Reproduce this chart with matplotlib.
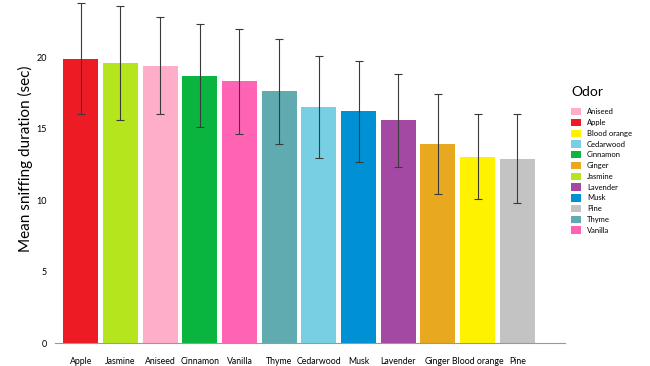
import matplotlib.pyplot as plt
from matplotlib.patches import Patch

# data
odors = ["Apple", "Jasmine", "Aniseed", "Cinnamon", "Vanilla", "Thyme",
         "Cedarwood", "Musk", "Lavender", "Ginger", "Blood orange", "Pine"]
means = [19.9, 19.6, 19.4, 18.7, 18.3, 17.6, 16.5, 16.2, 15.6, 13.9, 13.05, 12.9]
errs = [3.9, 4.0, 3.4, 3.6, 3.7, 3.7, 3.55, 3.55, 3.25, 3.5, 3.0, 3.1]
colors = {
    "Aniseed": "#FFAEC9",
    "Apple": "#ED1C24",
    "Blood orange": "#FFF200",
    "Cedarwood": "#78CFE3",
    "Cinnamon": "#0AB53F",
    "Ginger": "#E8A820",
    "Jasmine": "#B5E61D",
    "Lavender": "#A349A4",
    "Musk": "#0090D4",
    "Pine": "#C3C3C3",
    "Thyme": "#5FABAF",
    "Vanilla": "#FF64B4",
}

plt.rcParams["font.family"] = ["Lato", "DejaVu Sans"]

fig = plt.figure(figsize=(6.5, 3.66), dpi=100)
ax = fig.add_axes([0.0846, 0.0628, 0.7844, 0.9372])

x = range(len(odors))
ax.bar(x, means, width=0.88, color=[colors[o] for o in odors], zorder=2)
ax.errorbar(x, means, yerr=errs, fmt="none", ecolor="#3a3a3a",
            elinewidth=0.8, capsize=3.2, capthick=0.8, zorder=3)

ax.set_xlim(-0.65, 12.2)
ax.set_ylim(0, 24)
ax.set_yticks([0, 5, 10, 15, 20])
ax.set_xticks(list(x))
ax.set_xticklabels(odors, fontsize=6.3)
ax.tick_params(axis="x", length=0, pad=10)
ax.tick_params(axis="y", length=0, pad=6, labelsize=6.5)
for s in ["top", "right", "left"]:
    ax.spines[s].set_visible(False)
ax.spines["bottom"].set_color("#999999")
ax.spines["bottom"].set_linewidth(0.8)
ax.set_ylabel("Mean sniffing duration (sec)", fontsize=11)
ax.yaxis.set_label_coords(-0.043, 0.536)

handles = [Patch(facecolor=colors[k], edgecolor="none", label=k) for k in sorted(colors)]
leg = fig.legend(handles=handles, title="Odor", loc="upper left",
                 bbox_to_anchor=(0.868, 0.783), frameon=False, fontsize=5.5,
                 title_fontsize=10, handlelength=1.3, handleheight=1.1,
                 handletextpad=0.8, labelspacing=0.45, alignment="left")
leg._legend_box.sep = 7

fig.savefig("out.png", dpi=100)
